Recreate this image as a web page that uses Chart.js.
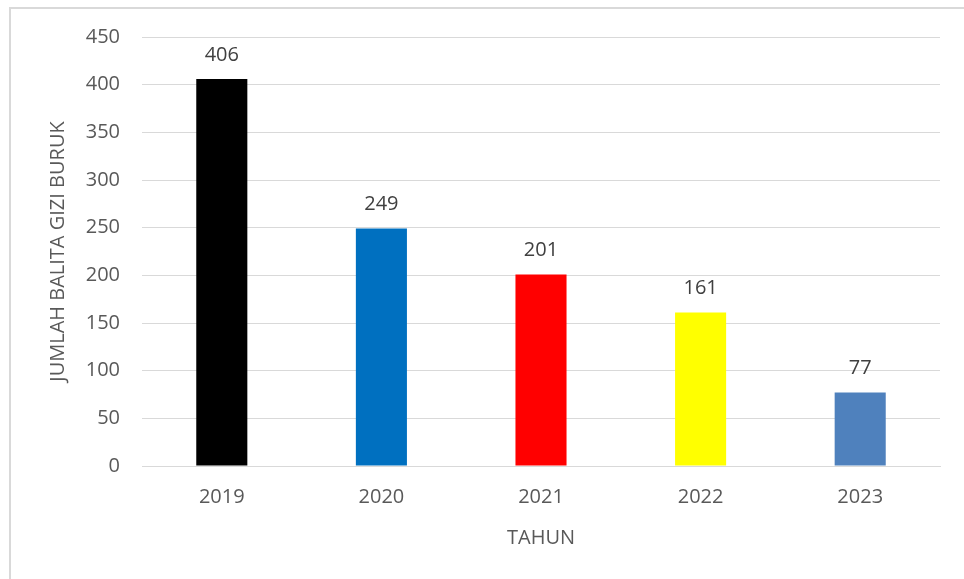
<!DOCTYPE html>
<html>
<head>
<meta charset="utf-8">
<script src="https://cdn.jsdelivr.net/npm/chart.js@4.4.0/dist/chart.umd.min.js"></script>
<style>
  html, body { margin: 0; padding: 0; background: #fff; }
  #wrap { position: relative; width: 964px; height: 579px; }
  #frame { position: absolute; left: 9px; top: 7px; width: 970px; height: 590px;
           border-top: 2px solid #d9d9d9; border-left: 2px solid #d9d9d9; }
  canvas { position: absolute; left: 0; top: 0; }
</style>
</head>
<body>
<div id="wrap">
  <div id="frame"></div>
  <canvas id="gizi" width="964" height="579"></canvas>
</div>
<script>
const years = ["2019", "2020", "2021", "2022", "2023"];
const jumlah = [406, 249, 201, 161, 77];
const barColors = ["#000000", "#0070C0", "#FF0000", "#FFFF00", "#4F81BD"];
const yTicks = [0, 50, 100, 150, 200, 250, 300, 350, 400, 450];

const fontFam = "'Open Sans', sans-serif";

// labels above each bar
const valueLabels = {
  id: "valueLabels",
  afterDatasetsDraw(chart) {
    const c = chart.ctx;
    const meta = chart.getDatasetMeta(0);
    c.save();
    c.font = "20px " + fontFam;
    c.fillStyle = "#404040";
    c.textAlign = "center";
    c.textBaseline = "bottom";
    meta.data.forEach(function (bar, i) {
      c.fillText(jumlah[i], bar.x, bar.y - 14);
    });
    c.restore();
  },
};

const ctx = document.getElementById("gizi");

var chart = new Chart(ctx, {
  type: "bar",
  data: {
    labels: years,
    datasets: [
      {
        data: jumlah,
        backgroundColor: barColors,
        borderWidth: 0,
        categoryPercentage: 1,
        barPercentage: 0.32,
      },
    ],
  },
  options: {
    responsive: false,
    animation: false,
    layout: { padding: { top: 37, right: 24, bottom: 29, left: 0 } },
    plugins: {
      legend: { display: false },
      tooltip: { enabled: false },
    },
    scales: {
      x: {
        grid: { display: false },
        border: { color: "#d9d9d9", width: 1 },
        ticks: { color: "#595959", font: { family: fontFam, size: 20 }, padding: 11 },
        title: {
          display: true,
          text: "TAHUN",
          color: "#595959",
          font: { family: fontFam, size: 20 },
          padding: { top: 6, bottom: 0 },
        },
      },
      y: {
        min: 0,
        max: 450,
        afterBuildTicks(scale) {
          scale.ticks = yTicks.map((v) => ({ value: v }));
        },
        afterFit(scale) {
          scale.width = 142;
        },
        grid: { color: "#d9d9d9", drawTicks: false },
        border: { display: false },
        ticks: { color: "#595959", font: { family: fontFam, size: 20 }, padding: 22 },
        title: {
          display: true,
          text: "JUMLAH BALITA GIZI BURUK",
          color: "#595959",
          font: { family: fontFam, size: 20 },
          padding: { top: 46, bottom: 0 },
        },
      },
    },
  },
  plugins: [valueLabels],
});
</script>
</body>
</html>
